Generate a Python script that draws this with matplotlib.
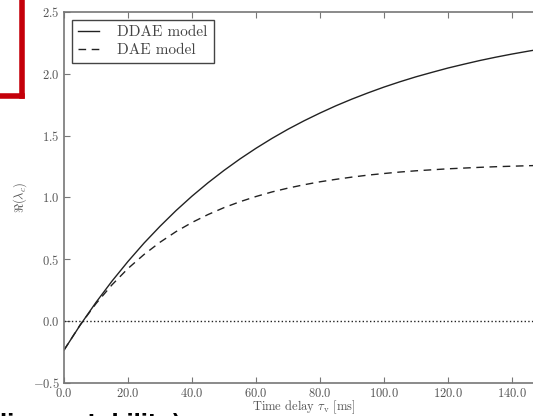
import matplotlib
matplotlib.use("Agg")
import matplotlib.pyplot as plt
from matplotlib.lines import Line2D

plt.rcParams['font.family'] = 'serif'
plt.rcParams['font.serif'] = ['cmr10', 'DejaVu Serif']
plt.rcParams['mathtext.fontset'] = 'cm'
plt.rcParams['axes.unicode_minus'] = False

# time delay [ms]
tau = [0, 5, 10, 15, 20, 25, 30, 35, 40, 45, 50, 55, 60, 65, 70, 75, 80,
       85, 90, 95, 100, 105, 110, 115, 120, 125, 130, 135, 140, 145, 150]
ddae = [-0.234, -0.034, 0.152, 0.324, 0.483, 0.631, 0.767, 0.894, 1.011,
        1.119, 1.219, 1.312, 1.398, 1.478, 1.552, 1.620, 1.683, 1.742,
        1.796, 1.846, 1.893, 1.936, 1.976, 2.012, 2.047, 2.078, 2.108,
        2.135, 2.160, 2.183, 2.205]
dae = [-0.234, -0.032, 0.142, 0.294, 0.426, 0.539, 0.638, 0.724, 0.798,
       0.862, 0.918, 0.966, 1.008, 1.045, 1.076, 1.103, 1.127, 1.147,
       1.165, 1.181, 1.194, 1.206, 1.216, 1.224, 1.232, 1.238, 1.244,
       1.249, 1.253, 1.257, 1.260]

xticks = [0, 20, 40, 60, 80, 100, 120, 140]
yticks = [-0.5, 0.0, 0.5, 1.0, 1.5, 2.0, 2.5]

fig = plt.figure(figsize=(5.33, 4.16), dpi=100)
ax = fig.add_axes([64 / 533, 33 / 416, 480 / 533, 371 / 416])

ax.plot(tau, ddae, '-', color='#222222', lw=1.0, label='DDAE model')
ax.plot(tau, dae, '--', color='#222222', lw=1.0, dashes=(5.5, 4),
        label='DAE model')
ax.axhline(0.0, color='#222222', ls=':', lw=1.0)

ax.set_xlim(0, 150)
ax.set_ylim(-0.5, 2.5)
ax.set_xticks(xticks)
ax.set_xticklabels(['$%.1f$' % v for v in xticks])
ax.set_yticks(yticks)
ax.set_yticklabels(['$%.1f$' % v for v in yticks])
ax.tick_params(direction='in', top=True, right=True, length=4, width=0.8,
               color='#777777', labelcolor='#555555', labelsize=9, pad=3)
for s in ax.spines.values():
    s.set_color('#777777')
    s.set_linewidth(1.2)

ax.set_xlabel(r'Time delay $\tau_{\rm v}$ [ms]', fontsize=9, color='#555555',
              labelpad=-1)
ax.set_ylabel(r'$\Re(\lambda_c)$', fontsize=9, color='#555555', labelpad=3)

leg = ax.legend(loc='upper left', fontsize=11, fancybox=False, framealpha=1,
                borderpad=0.4, handlelength=1.4, handletextpad=1.2,
                labelspacing=0.25, borderaxespad=0.5)
leg.get_frame().set_edgecolor('#444444')
for t in leg.get_texts():
    t.set_color('#444444')

# red box fragment in the corner
red = '#c4000a'
fig.add_artist(Line2D([22 / 533, 22 / 533], [1.0, 1 - 96 / 416],
                      transform=fig.transFigure, color=red, lw=4,
                      solid_capstyle='projecting'))
fig.add_artist(Line2D([0.0, 22 / 533], [1 - 96 / 416, 1 - 96 / 416],
                      transform=fig.transFigure, color=red, lw=4,
                      solid_capstyle='projecting'))

# clipped caption text below the figure
fig.text(0.0, -0.041, 'linear stability)', fontsize=15, fontweight='bold',
         family='DejaVu Sans', color='black', va='bottom')

fig.savefig('out.png', dpi=100)
